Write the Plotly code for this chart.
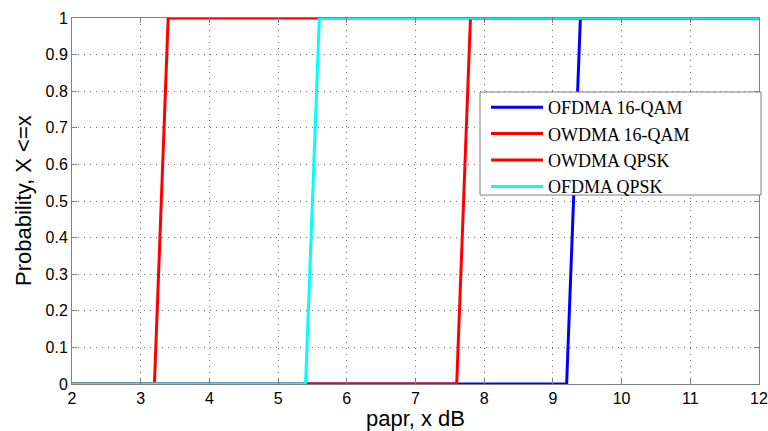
import plotly.graph_objects as go

names = ["OFDMA 16-QAM", "OWDMA 16-QAM", "OWDMA QPSK", "OFDMA QPSK"]
colors = ["#0000ff", "#ff0000", "#ff0000", "#00ffff"]
x_ofdma16 = [2, 9.2, 9.4, 12]
y_ofdma16 = [0, 0, 1, 1]
x_owdma16 = [2, 7.6, 7.8, 12]
y_owdma16 = [0, 0, 1, 1]
x_owdmaq = [2, 3.2, 3.4, 12]
y_owdmaq = [0, 0, 1, 1]
x_ofdmaq = [2, 5.4, 5.6, 12]
y_ofdmaq = [0, 0, 1, 1]

xs = [x_ofdma16, x_owdma16, x_owdmaq, x_ofdmaq]
ys = [y_ofdma16, y_owdma16, y_owdmaq, y_ofdmaq]

x_ticks = list(range(2, 13))
y_ticks = [0, 0.1, 0.2, 0.3, 0.4, 0.5, 0.6, 0.7, 0.8, 0.9, 1]
y_labels = ["0", "0.1", "0.2", "0.3", "0.4", "0.5", "0.6", "0.7", "0.8", "0.9", "1"]
x_title = "papr, x dB"
y_title = "Probability, X <=x"

fig = go.Figure()
for n, c, x, y in zip(names, colors, xs, ys):
    fig.add_trace(go.Scatter(x=x, y=y, mode="lines", name=n, cliponaxis=False,
                             line=dict(color=c, width=3)))

axis_common = dict(
    showline=True, linecolor="#808080", linewidth=1, mirror="ticks",
    ticks="inside", ticklen=5, tickcolor="#808080",
    showgrid=True, gridcolor="#707070", griddash="1px,5px", gridwidth=1,
    zeroline=False, automargin=False,
    tickfont=dict(family="Liberation Sans, Arial", size=16, color="black"),
)

# legend box (MATLAB-style, wider than the entries)
fig.add_shape(type="rect", xref="paper", yref="paper",
              x0=(480 - 72) / 687, x1=(761 - 72) / 687,
              y0=(384 - 195) / 366, y1=(384 - 92) / 366,
              line=dict(color="#808080", width=1), fillcolor="white", layer="above")

# y axis title placed like the MATLAB original
fig.add_annotation(text=y_title, xref="paper", yref="paper", x=0, y=0.5,
                   xanchor="center", yanchor="middle", xshift=-49, textangle=-90,
                   showarrow=False,
                   font=dict(family="Liberation Sans, Arial", size=22, color="black"))

fig.update_layout(
    width=768, height=431,
    margin=dict(l=72, r=9, t=18, b=47),
    paper_bgcolor="white", plot_bgcolor="white",
    xaxis=dict(range=[2, 12], tickvals=x_ticks,
               title=dict(text=x_title, standoff=2,
                          font=dict(family="Liberation Sans, Arial", size=22, color="black")),
               **axis_common),
    yaxis=dict(range=[0, 1], tickvals=y_ticks, ticktext=y_labels, **axis_common),
    legend=dict(x=(486 - 72) / 687, y=(384 - 89) / 366, xanchor="left", yanchor="top",
                bgcolor="rgba(0,0,0,0)", borderwidth=0,
                font=dict(family="Liberation Serif, Times New Roman", size=18, color="black"),
                tracegroupgap=0, itemwidth=52),
    showlegend=True,
)

fig.write_html("out.html", post_script="document.body.style.margin='0';",
               config={"displayModeBar": False})
